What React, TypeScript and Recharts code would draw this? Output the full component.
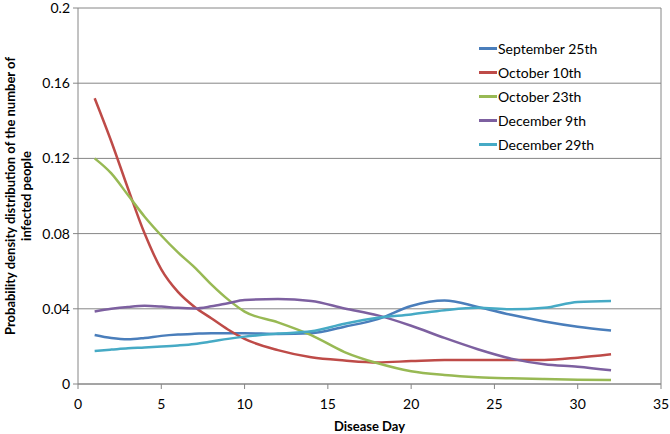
import React from "react";
import { LineChart, Line, XAxis, YAxis, CartesianGrid, ReferenceLine } from "recharts";

const days = [1, 2, 3, 4, 5, 6, 7, 8, 9, 10, 12, 14, 16, 18, 20, 22, 24, 26, 28, 30, 32];
const sep25 = [0.0261, 0.0245, 0.0238, 0.0245, 0.0256, 0.0263, 0.0267, 0.027, 0.027, 0.027, 0.0266, 0.027, 0.0305, 0.0345, 0.0415, 0.0444, 0.041, 0.0368, 0.0333, 0.0305, 0.0284];
const oct10 = [0.152, 0.129, 0.104, 0.08, 0.061, 0.049, 0.041, 0.035, 0.029, 0.024, 0.018, 0.0142, 0.0125, 0.0115, 0.0122, 0.0128, 0.0128, 0.0128, 0.0128, 0.014, 0.0158];
const oct23 = [0.12, 0.112, 0.1005, 0.089, 0.079, 0.07, 0.062, 0.053, 0.045, 0.0385, 0.0328, 0.026, 0.017, 0.011, 0.0068, 0.0048, 0.0036, 0.003, 0.0026, 0.0023, 0.0021];
const dec9 = [0.0386, 0.04, 0.041, 0.0416, 0.0412, 0.0405, 0.0402, 0.0413, 0.043, 0.0447, 0.0452, 0.0442, 0.0402, 0.0365, 0.031, 0.0245, 0.0185, 0.0135, 0.0105, 0.0092, 0.0073];
const dec29 = [0.0176, 0.0183, 0.019, 0.0194, 0.0199, 0.0205, 0.0213, 0.0226, 0.024, 0.0252, 0.0268, 0.028, 0.032, 0.0352, 0.037, 0.0392, 0.0405, 0.0397, 0.0405, 0.0436, 0.0441];

const xTicks = [0, 5, 10, 15, 20, 25, 30, 35];
const yTicks = [0, 0.04, 0.08, 0.12, 0.16, 0.2];

const series = [
  { key: "sep25", name: "September 25th", color: "#4A7EBB" },
  { key: "oct10", name: "October 10th", color: "#BE4B48" },
  { key: "oct23", name: "October 23th", color: "#98B954" },
  { key: "dec9", name: "December 9th", color: "#7D60A0" },
  { key: "dec29", name: "December 29th", color: "#46AAC5" },
];

const data = days.map((d, i) => ({ day: d, sep25: sep25[i], oct10: oct10[i], oct23: oct23[i], dec9: dec9[i], dec29: dec29[i] }));

const font = "Lato, 'Open Sans', sans-serif";
const axisGray = "#868686";

function YLabel(props: any) {
  const vb = props.viewBox || {};
  const cy = vb.y + vb.height / 2;
  return (
    <g fontFamily={font} fontSize={13} fontWeight="bold" fill="#000" textAnchor="middle">
      <text transform={`translate(15, ${cy}) rotate(-90)`}>Probability density distribution of the number of</text>
      <text transform={`translate(31, ${cy}) rotate(-90)`}>infected people</text>
    </g>
  );
}

export default function App() {
  return (
    <div style={{ position: "absolute", left: 0, top: 0, width: 670, height: 434, background: "#fff" }}>
      <LineChart width={670} height={434} data={data} margin={{ top: 8, right: 9, bottom: 14, left: 0 }}>
        <CartesianGrid vertical={false} stroke={axisGray} strokeWidth={1} />
        <ReferenceLine x={35} stroke={axisGray} />
        <XAxis
          dataKey="day"
          type="number"
          domain={[0, 35]}
          ticks={xTicks}
          stroke={axisGray}
          tickSize={5}
          height={36}
          tick={{ fill: "#000", fontSize: 14, fontFamily: font }}
          tickMargin={10}
          label={{ value: "Disease Day", position: "bottom", offset: 2, fill: "#000", fontSize: 13, fontWeight: "bold", fontFamily: font }}
        />
        <YAxis
          type="number"
          domain={[0, 0.2]}
          ticks={yTicks}
          width={78}
          stroke={axisGray}
          tickSize={5}
          tick={{ fill: "#000", fontSize: 14, fontFamily: font }}
          tickMargin={3}
          label={<YLabel />}
        />
        {series.map((s) => (
          <Line key={s.key} type="monotone" dataKey={s.key} name={s.name} stroke={s.color} strokeWidth={2.5} dot={false} isAnimationActive={false} />
        ))}
      </LineChart>
      <div style={{ position: "absolute", top: 36, left: 479, fontFamily: font, fontSize: 14, color: "#000" }}>
        {series.map((s) => (
          <div key={s.key} style={{ display: "flex", alignItems: "center", height: 24 }}>
            <span style={{ display: "inline-block", width: 18, height: 3, background: s.color, marginRight: 1 }} />
            <span>{s.name}</span>
          </div>
        ))}
      </div>
    </div>
  );
}
